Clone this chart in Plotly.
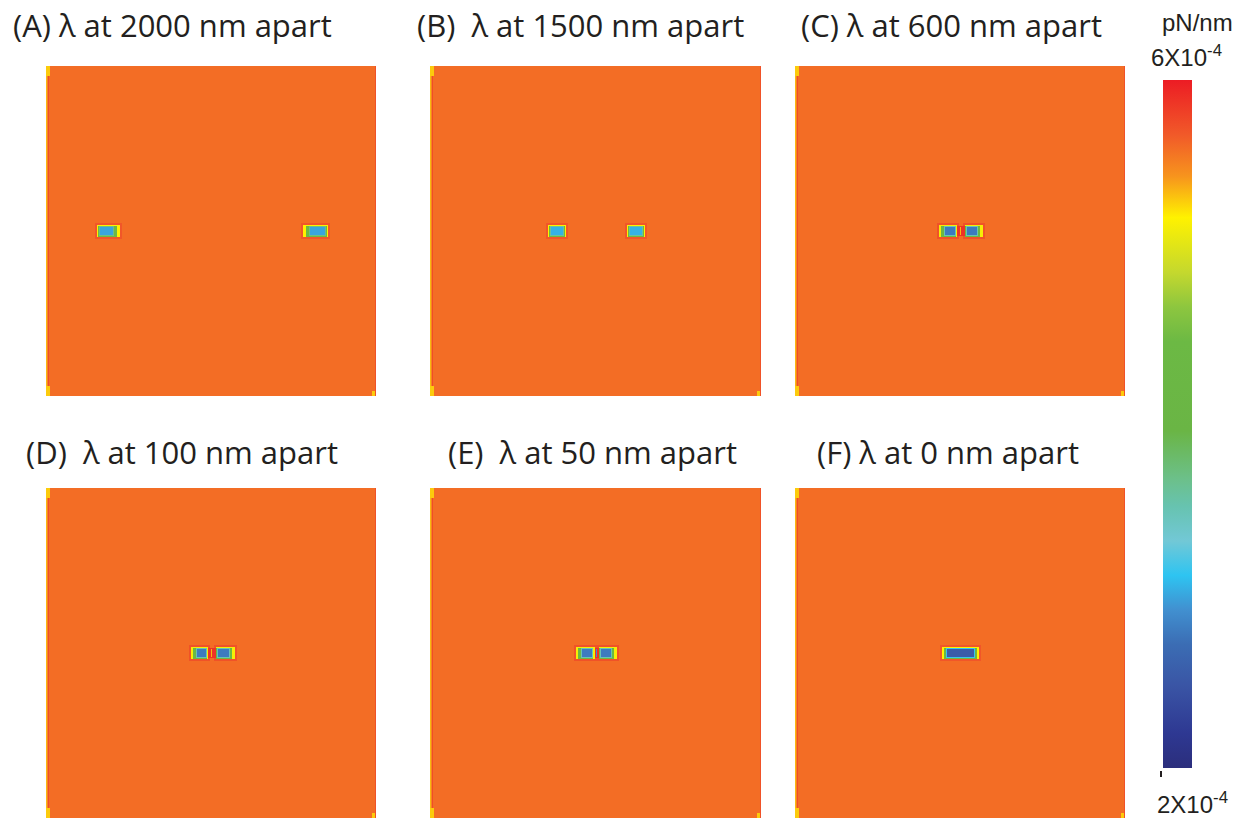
import numpy as np
import plotly.graph_objects as go

# ---------------- data (field values in units of 1e-4 pN/nm) ----------------
panel_titles = [
    "(A) λ at 2000 nm apart",
    "(B)  λ at 1500 nm apart",
    "(C) λ at 600 nm apart",
    "(D)  λ at 100 nm apart",
    "(E)  λ at 50 nm apart",
    "(F) λ at 0 nm apart",
]

scale_min = 2.0
scale_max = 6.0
background_level = 5.6
edge_column_levels = [5.35, 5.5, 5.75]    # leftmost pixel columns of each map
corner_level = 5.3

# particle blocks: x spans (px offset from map centre)
particle_x_spans = [
    [[-114, -91], [92, 117]],
    [[-47, -29], [31, 49]],
    [[-21, -3], [5, 23]],
    [[-20, -3], [5, 24]],
    [[-19, -1], [3, 21]],
    [[-18, 19]],
]
particle_y_span = [-6, 6]
halo_levels = [5.7, 5.7, 5.72, 5.72, 5.72, 5.7]
rim_outer_levels = [5.2, 5.2, 5.15, 5.15, 5.15, 5.2]
rim_inner_levels = [3.7, 3.6, 3.5, 3.5, 3.5, 3.15]
core_levels = [3.0, 3.05, 2.8, 2.8, 2.8, 2.55]
# rim thickness [left, right, top, bottom] per block
rim_thickness = [
    [[2, 6, 1, 1], [6, 2, 1, 1]],
    [[2, 2, 1, 1], [2, 2, 1, 1]],
    [[5, 1, 1, 1], [1, 5, 1, 1]],
    [[5, 1, 1, 1], [1, 5, 1, 1]],
    [[5, 1, 1, 1], [1, 5, 1, 1]],
    [[4, 4, 1, 1]],
]
gap_levels = [None, None, 5.88, 5.88, 5.88, None]
gap_centre_levels = [None, None, 5.35, 5.35, 2.9, None]

# ---------------- layout geometry (px in a 1234x821 page) ----------------
W, H = 1234, 821
panel_px = [
    (46, 376, 66, 396), (430, 761, 66, 396), (795, 1125, 66, 396),
    (46, 376, 488, 818), (430, 761, 488, 818), (795, 1125, 488, 818),
]
title_px = [(172, 25), (580, 25), (951, 25), (182, 452), (592, 452), (948, 452)]

colorscale = [
    [0.00, "#2b2e7c"], [0.05, "#2e3892"], [0.12, "#3a55a5"], [0.18, "#3b6db4"],
    [0.23, "#4190d0"], [0.28, "#2ec4f1"], [0.33, "#72c8d6"], [0.38, "#67c3b0"],
    [0.42, "#6cc08a"], [0.49, "#6ab545"], [0.62, "#6cb944"], [0.67, "#8dc63f"],
    [0.72, "#c4d82e"], [0.80, "#fff200"], [0.86, "#f7941d"], [0.92, "#f15a29"],
    [1.00, "#ec1c24"],
]

xs = np.arange(-164.5, 165, 1.0)
ys = np.concatenate([np.arange(-162.5, -25, 5.0), np.arange(-24.5, 25, 1.0),
                     np.arange(27.5, 165, 5.0)])
XX, YY = np.meshgrid(xs, ys)


def paint(z, x0, x1, y0, y1, v):
    m = (XX >= x0) & (XX < x1) & (YY >= y0) & (YY < y1)
    z[m] = v


fig = go.Figure()
for i in range(6):
    z = np.full(XX.shape, background_level)
    # edge effects
    for k, v in enumerate(edge_column_levels):
        paint(z, -165 + k, -164 + k, -165, 165, v)
    paint(z, -165, -161, 155, 165, corner_level)
    paint(z, -165, -161, -165, -155, corner_level)
    paint(z, 161, 165, -165, -158, corner_level)
    paint(z, 164, 165, -165, 165, 5.72)
    y0, y1 = particle_y_span
    spans = particle_x_spans[i]
    for (a, b) in spans:
        paint(z, a - 2, b + 2, y0 - 2, y1 + 2, halo_levels[i])
    if gap_levels[i] is not None:
        ga, gb = spans[0][1], spans[1][0]
        paint(z, ga, gb, y0 + 1, y1 - 1, gap_levels[i])
        mid = round((ga + gb) / 2)
        paint(z, mid - 0.5, mid + 0.5, y0 + 2, y1 - 2, gap_centre_levels[i])
    for j, (a, b) in enumerate(spans):
        l, r, t, btm = rim_thickness[i][j]
        paint(z, a, b, y0, y1, rim_outer_levels[i])
        paint(z, a + l * 0.5, b - r * 0.5, y0 + t * 0.5, y1 - btm * 0.5,
              (rim_outer_levels[i] + rim_inner_levels[i]) / 2)
        paint(z, a + l, b - r, y0 + t, y1 - btm, rim_inner_levels[i])
        paint(z, a + l + 1, b - r - 1, y0 + t + 1, y1 - btm - 1, core_levels[i])

    sfx = "" if i == 0 else str(i + 1)
    fig.add_trace(go.Heatmap(
        x=xs, y=ys, z=np.round(z, 3), coloraxis="coloraxis",
        xaxis="x" + sfx, yaxis="y" + sfx, hoverinfo="skip",
    ))
    xl, xr, yt, yb = panel_px[i]
    fig.layout["xaxis" + sfx] = dict(domain=[xl / W, xr / W], range=[-165, 165],
                                      visible=False, anchor="y" + sfx, fixedrange=True)
    fig.layout["yaxis" + sfx] = dict(domain=[1 - yb / H, 1 - yt / H], range=[-165, 165],
                                      visible=False, anchor="x" + sfx, fixedrange=True)

annotations = []
for (tx, ty), t in zip(title_px, panel_titles):
    annotations.append(dict(
        text=t, x=tx / W, y=1 - ty / H, xref="paper", yref="paper",
        xanchor="center", yanchor="middle", showarrow=False,
        font=dict(family="Open Sans", size=31, color="#231f20"),
    ))
lab_font = dict(family="Liberation Sans, Arial", size=24, color="#231f20")
annotations += [
    dict(text="pN/nm", x=1197 / W, y=1 - 22 / H, xref="paper", yref="paper",
         xanchor="center", yanchor="middle", showarrow=False, font=lab_font),
    dict(text="6X10<sup>-4</sup>", x=1186 / W, y=1 - 56 / H, xref="paper", yref="paper",
         xanchor="center", yanchor="middle", showarrow=False, font=lab_font),
    dict(text="2X10<sup>-4</sup>", x=1192 / W, y=1 - 803 / H, xref="paper", yref="paper",
         xanchor="center", yanchor="middle", showarrow=False, font=lab_font),
]

fig.update_layout(
    width=W, height=H, margin=dict(l=0, r=0, t=0, b=0),
    paper_bgcolor="white", plot_bgcolor="white",
    annotations=annotations,
    coloraxis=dict(
        colorscale=colorscale, cmin=scale_min, cmax=scale_max,
        colorbar=dict(
            x=1163 / W, xanchor="left", y=1 - 424 / H, yanchor="middle",
            thickness=29, thicknessmode="pixels", len=688, lenmode="pixels",
            outlinewidth=0, ticks="", showticklabels=False, xpad=0, ypad=0,
        ),
    ),
    shapes=[dict(type="line", xref="paper", yref="paper",
                 x0=1161 / W, x1=1161 / W, y0=1 - 771 / H, y1=1 - 777 / H,
                 line=dict(color="#231f20", width=2))],
    showlegend=False,
)

fig.write_html("out.html")
